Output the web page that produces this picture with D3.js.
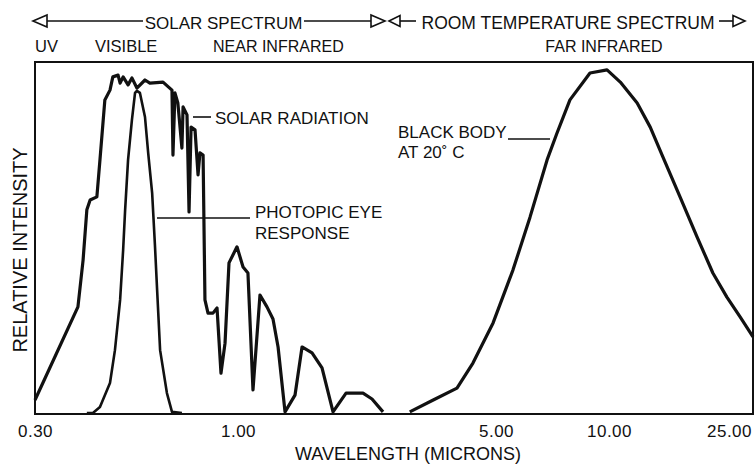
<!DOCTYPE html>
<html>
<head>
<meta charset="utf-8">
<script src="https://cdn.jsdelivr.net/npm/d3@7/dist/d3.min.js"></script>
<style>
  body { margin: 0; background: #fff; }
  svg text { font-family: "Liberation Sans", Arial, Helvetica, sans-serif; fill: #111; }
</style>
</head>
<body>
<div id="chart"></div>
<script>
// values (wavelength in microns, intensity relative 0..1)
var solarWavelength = [0.30, 0.387, 0.399, 0.408, 0.416, 0.433, 0.441, 0.454, 0.468, 0.476, 0.491, 0.497,
  0.506, 0.521, 0.533, 0.549, 0.576, 0.593, 0.641, 0.676, 0.680, 0.688, 0.700, 0.717, 0.722, 0.739,
  0.748, 0.757, 0.775, 0.789, 0.798, 0.813, 0.822, 0.837, 0.862, 0.883, 0.904, 0.926, 0.948, 0.994,
  1.032, 1.064, 1.098, 1.147, 1.198, 1.244, 1.284, 1.341, 1.427, 1.491, 1.587, 1.689, 1.809, 1.962,
  2.181, 2.307, 2.471];
var solarIntensity = [0.040, 0.307, 0.441, 0.585, 0.613, 0.622, 0.728, 0.900, 0.928, 0.966, 0.971, 0.948,
  0.966, 0.943, 0.963, 0.934, 0.957, 0.948, 0.951, 0.928, 0.742, 0.920, 0.891, 0.762, 0.880, 0.857,
  0.579, 0.822, 0.814, 0.685, 0.748, 0.742, 0.327, 0.289, 0.289, 0.304, 0.117, 0.203, 0.433, 0.479,
  0.421, 0.404, 0.069, 0.341, 0.307, 0.272, 0.192, 0.006, 0.054, 0.192, 0.175, 0.132, 0.006, 0.060,
  0.060, 0.043, 0.006];

var eyeWavelength = [0.408, 0.423, 0.441, 0.468, 0.482, 0.497, 0.506, 0.512, 0.521, 0.533, 0.543, 0.549,
  0.559, 0.576, 0.587, 0.601, 0.611, 0.619, 0.630, 0.656, 0.676, 0.717];
var eyeIntensity = [0.003, 0.003, 0.020, 0.089, 0.183, 0.327, 0.470, 0.585, 0.728, 0.842, 0.920, 0.926,
  0.920, 0.851, 0.748, 0.633, 0.484, 0.355, 0.183, 0.060, 0.006, 0.003];

var bodyWavelength = [2.92, 3.38, 3.92, 4.33, 4.91, 5.55, 6.16, 6.84, 7.27, 7.87, 8.90, 9.88,
  10.9, 12.4, 13.7, 15.1, 17.2, 19.6, 22.1, 24.6, 27.2, 30.0];
var bodyIntensity = [0.006, 0.040, 0.074, 0.146, 0.261, 0.413, 0.564, 0.728, 0.805, 0.900, 0.977, 0.986,
  0.951, 0.891, 0.822, 0.736, 0.622, 0.507, 0.404, 0.335, 0.278, 0.221];

var tickValues = [0.3, 1, 5, 10, 25];
var tickLabels = ["0.30", "1.00", "5.00", "10.00", "25.00"];

var width = 756, height = 466;
var plotLeft = 35, plotRight = 753, plotTop = 62, plotBottom = 414;

var svg = d3.select("#chart").append("svg")
    .attr("width", width)
    .attr("height", height);

// the printed axis is not an exact log grid, so the scale is calibrated piecewise
var x = d3.scaleLog()
    .domain([0.3, 1, 5, 10, 25, 30])
    .range([plotLeft, 238, 496, 609, 729, plotRight]);

var y = d3.scaleLinear()
    .domain([0, 1])
    .range([plotBottom, 65]);

// frame
svg.append("rect")
    .attr("x", plotLeft).attr("y", plotTop)
    .attr("width", plotRight - plotLeft).attr("height", plotBottom - plotTop)
    .attr("fill", "none").attr("stroke", "#111").attr("stroke-width", 2);

// x tick labels
var xAxis = d3.axisBottom(x)
    .tickValues(tickValues)
    .tickSize(0)
    .tickPadding(0)
    .tickFormat(function(d, i) { return tickLabels[i]; });

var gx = svg.append("g")
    .attr("transform", "translate(0," + plotBottom + ")")
    .call(xAxis);
gx.select(".domain").remove();
gx.selectAll("text")
    .attr("y", 23).attr("dy", null)
    .style("font-size", "17px")
    .style("letter-spacing", "0.5px")
    .attr("fill", "#111");

function zip(xs, ys) {
  return xs.map(function(v, i) { return [v, ys[i]]; });
}

var line = d3.line()
    .x(function(d) { return x(d[0]); })
    .y(function(d) { return y(d[1]); });

svg.append("path")
    .datum(zip(eyeWavelength, eyeIntensity))
    .attr("d", line)
    .attr("fill", "none").attr("stroke", "#111")
    .attr("stroke-width", 2.6).attr("stroke-linejoin", "round");

svg.append("path")
    .datum(zip(solarWavelength, solarIntensity))
    .attr("d", line)
    .attr("fill", "none").attr("stroke", "#111")
    .attr("stroke-width", 3.2).attr("stroke-linejoin", "round");

svg.append("path")
    .datum(zip(bodyWavelength, bodyIntensity))
    .attr("d", line)
    .attr("fill", "none").attr("stroke", "#111")
    .attr("stroke-width", 3.2).attr("stroke-linejoin", "round");

// spectrum arrows on top
function arrowHead(tipX, baseX, cy, h) {
  svg.append("path")
      .attr("d", "M" + tipX + "," + cy + "L" + baseX + "," + (cy - h / 2) + "L" + baseX + "," + (cy + h / 2) + "Z")
      .attr("fill", "#fff").attr("stroke", "#111").attr("stroke-width", 1.6);
}
function hline(x1, x2, yy, w) {
  svg.append("line")
      .attr("x1", x1).attr("x2", x2).attr("y1", yy).attr("y2", yy)
      .attr("stroke", "#111").attr("stroke-width", w || 1.6);
}

hline(47, 143, 21);
hline(304, 371, 21);
arrowHead(33, 47, 21, 12);
arrowHead(385, 371, 21, 12);

hline(400, 416, 21);
hline(719, 733, 21);
arrowHead(389, 400, 21, 11);
arrowHead(745, 733, 21, 11);

function label(txt, tx, ty, size, anchor) {
  return svg.append("text")
      .attr("x", tx).attr("y", ty)
      .attr("text-anchor", anchor || "start")
      .style("font-size", size + "px")
      .text(txt);
}

label("SOLAR SPECTRUM", 223.5, 29, 17, "middle");
label("ROOM TEMPERATURE SPECTRUM", 568, 29, 17.5, "middle");

label("UV", 35, 52, 16.5);
label("VISIBLE", 95, 52, 16.5);
label("NEAR INFRARED", 213, 52, 16);
label("FAR INFRARED", 604, 52, 16, "middle");

// curve annotations
hline(193, 211, 117, 1.6);
label("SOLAR RADIATION", 215, 124, 17);

hline(157, 250, 218, 1.6);
label("PHOTOPIC EYE", 255, 218, 17);
label("RESPONSE", 255, 239, 17);

label("BLACK BODY", 398, 138, 17);
hline(508, 550, 139, 1.6);
label("AT 20\u02da C", 398, 158, 17);

// axis titles
label("WAVELENGTH (MICRONS)", 295, 460, 18);
svg.append("text")
    .attr("transform", "translate(27,250) rotate(-90)")
    .attr("text-anchor", "middle")
    .style("font-size", "20px")
    .text("RELATIVE INTENSITY");
</script>
</body>
</html>
